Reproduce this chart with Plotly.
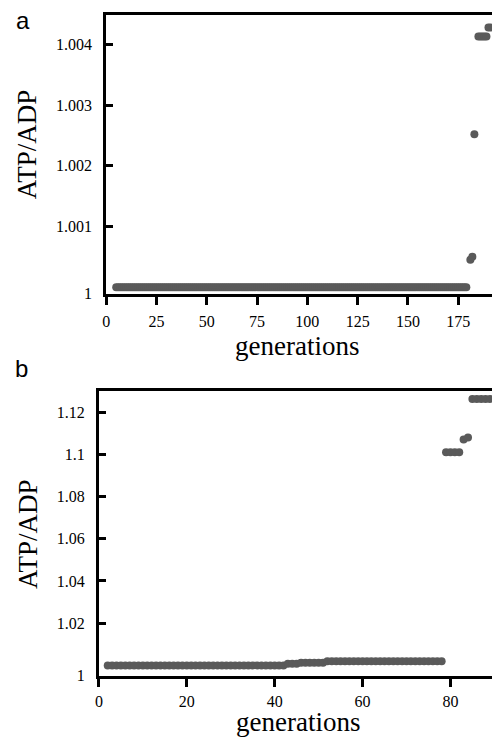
import plotly.graph_objects as go

# ---- Data: panel a ----
gen_a = list(range(5, 180)) + [181, 182, 183, 185, 186, 187, 188, 189, 190, 191]
ratio_a = [1.0] * 175 + [1.00045, 1.00050, 1.00252,
                         1.00413, 1.00413, 1.00413, 1.00413, 1.00413,
                         1.00428, 1.00428]

# ---- Data: panel b ----
gen_b = (list(range(2, 43)) + list(range(43, 46)) + list(range(46, 52)) +
         list(range(52, 79)) + [79, 80, 81, 82, 83, 84, 85, 86, 87, 88, 89])
ratio_b = ([1.0] * 41 + [1.0008] * 3 + [1.0012] * 6 + [1.002] * 27 +
           [1.101, 1.101, 1.101, 1.101, 1.107, 1.108,
            1.1263, 1.1263, 1.1263, 1.1263, 1.1263])

xticks_a = [0, 25, 50, 75, 100, 125, 150, 175]
yticks_a = [1.001, 1.002, 1.003, 1.004]
xticks_b = [0, 20, 40, 60, 80]
yticks_b = [1.02, 1.04, 1.06, 1.08, 1.1, 1.12]

yrange_a = [0.999891, 1.004489]
yrange_b = [0.99516, 1.13017]
xrange_a = [0, 191.76]
xrange_b = [0, 89.46]

W, H = 492, 738
MARK = dict(size=8, color="#5a5a5a")
SERIF = "Liberation Serif"

def px(x):
    return x / W

def py(y):
    return 1 - y / H

fig = go.Figure()
fig.add_trace(go.Scatter(x=gen_a, y=ratio_a, mode="markers", marker=MARK,
                         xaxis="x", yaxis="y", showlegend=False))
fig.add_trace(go.Scatter(x=gen_b, y=ratio_b, mode="markers", marker=MARK,
                         xaxis="x2", yaxis="y2", showlegend=False))

def xax(domain, rng, ticks, anchor, standoff=3):
    return dict(domain=domain, range=rng, anchor=anchor, tickvals=ticks,
                ticktext=[str(t) for t in ticks],
                showline=True, linecolor="black", linewidth=3, mirror=True,
                ticks="outside", ticklen=8, tickwidth=3, tickcolor="black",
                showgrid=False, zeroline=False,
                tickfont=dict(family=SERIF, size=16, color="black"),
                ticklabelstandoff=standoff)

def yax(domain, rng, ticks, anchor):
    vals = [rng[0] + (rng[1] - rng[0]) * 0.0005] + ticks
    text = ["1"] + [("%g" % t) for t in ticks]
    return dict(domain=domain, range=rng, anchor=anchor, tickvals=vals,
                ticktext=text,
                showline=True, linecolor="black", linewidth=3, mirror=False,
                ticks="inside", ticklen=7, tickwidth=3, tickcolor="black",
                showgrid=False, zeroline=False,
                tickfont=dict(family=SERIF, size=16, color="black"),
                ticklabelstandoff=8)

fig.update_layout(
    width=W, height=H, margin=dict(l=0, r=0, t=0, b=0),
    paper_bgcolor="white", plot_bgcolor="white",
    xaxis=xax([px(103), 1], xrange_a, xticks_a, "y"),
    yaxis=yax([py(297), py(15)], yrange_a, yticks_a, "x"),
    xaxis2=xax([px(95.7), 1], xrange_b, xticks_b, "y2", standoff=1),
    yaxis2=yax([py(683), py(395)], yrange_b, yticks_b, "x2"),
)

def ann(text, xpx, ypx, size, family, angle=0):
    fig.add_annotation(text=text, x=px(xpx), y=py(ypx), xref="paper",
                       yref="paper", showarrow=False, textangle=angle,
                       xanchor="center", yanchor="middle",
                       font=dict(family=family, size=size, color="black"))

ann("a", 19, 21, 24, "Liberation Sans")
ann("b", 18, 373, 24, "Liberation Sans")
ann("ATP/ADP", 24, 146, 27, SERIF, -90)
ann("ATP/ADP", 24, 540, 27, SERIF, -90)
ann("generations", 295, 350, 27, SERIF)
ann("generations", 296, 730, 27, SERIF)

fig.write_html(
    "out.html",
    config={"displayModeBar": False},
    post_script="document.body.style.margin='0';"
                "document.body.style.overflow='hidden';",
)
